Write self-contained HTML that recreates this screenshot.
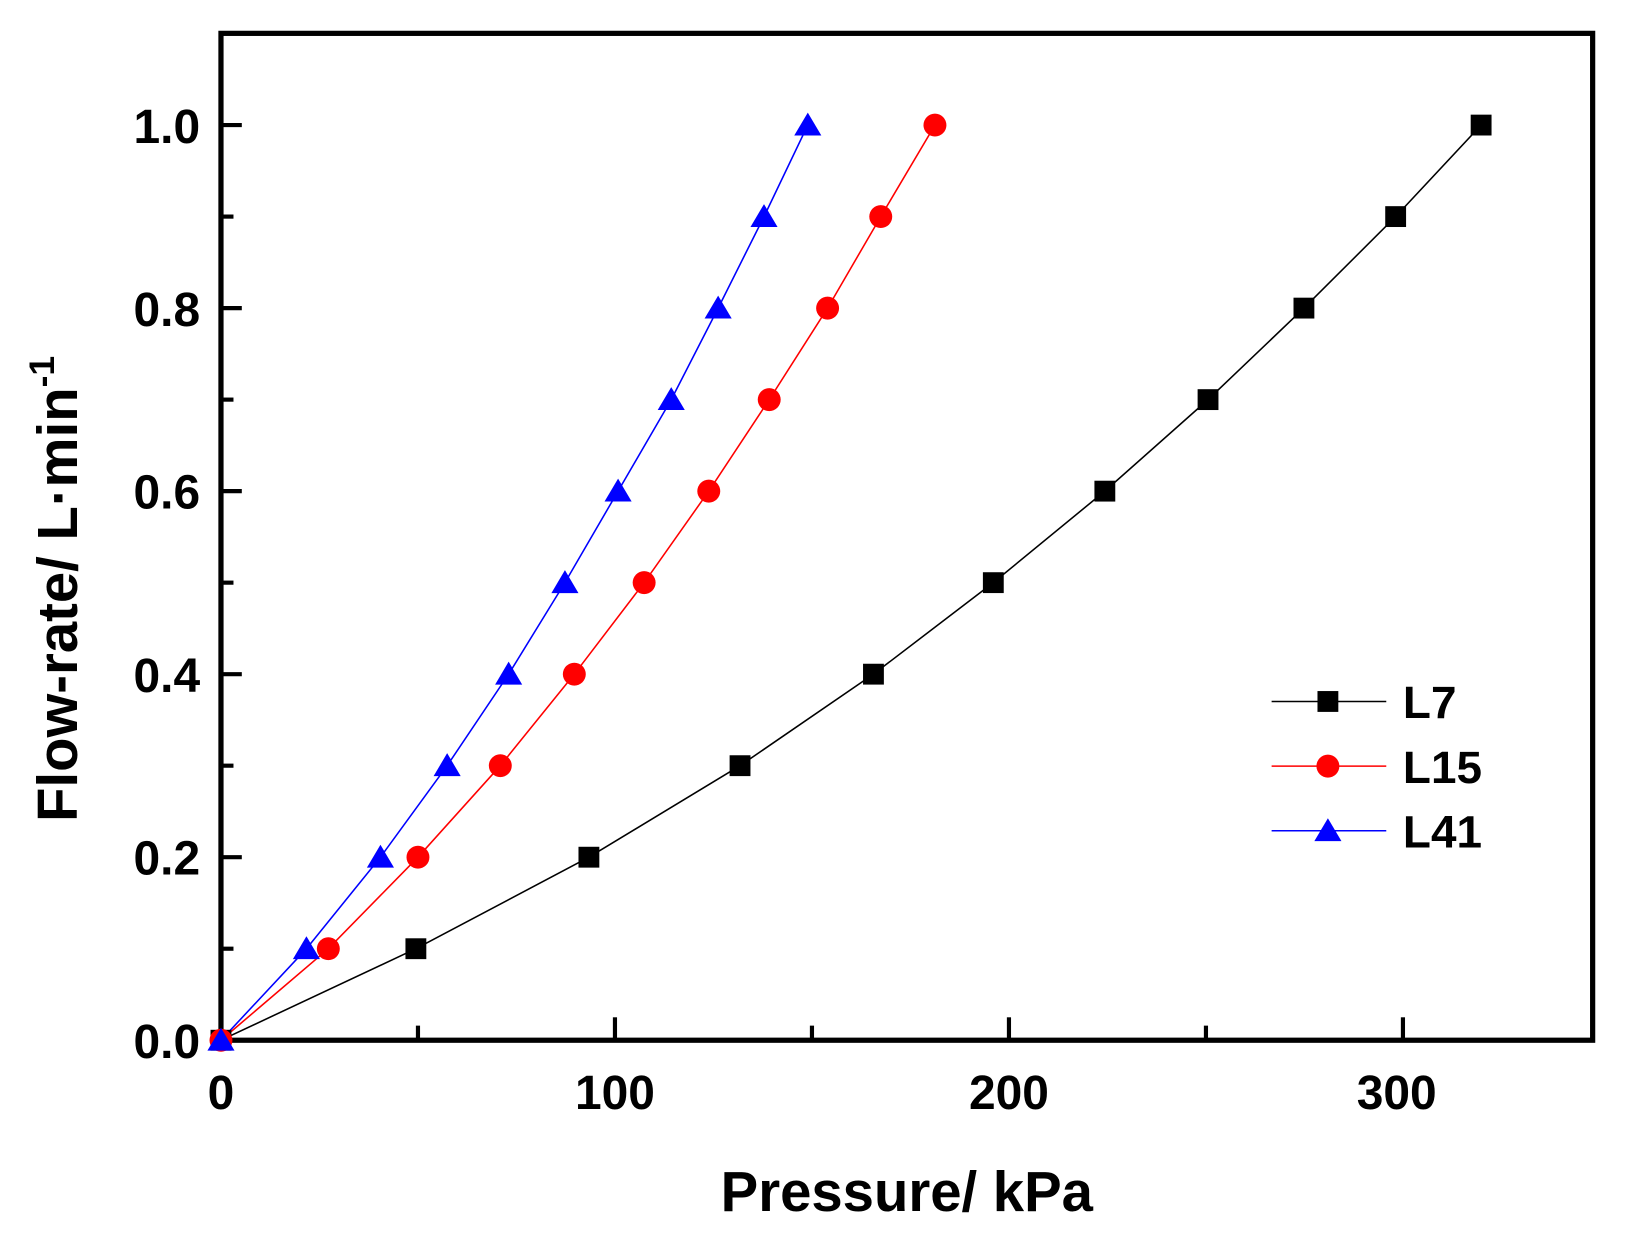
<!DOCTYPE html>
<html><head><style>html,body{margin:0;padding:0;background:#fff}svg{display:block}</style></head>
<body>
<svg width="1626" height="1244" viewBox="0 0 1560 1193.5" preserveAspectRatio="none" xmlns="http://www.w3.org/2000/svg" font-family="Liberation Sans, Arial, sans-serif" font-weight="bold">
<rect x="0" y="0" width="1560" height="1193.5" fill="#fff"/>
<!-- ticks -->
<g stroke="#000" stroke-width="4">
<line x1="401" y1="998" x2="401" y2="984"/><line x1="590" y1="998" x2="590" y2="976"/>
<line x1="779" y1="998" x2="779" y2="984"/><line x1="968" y1="998" x2="968" y2="976"/>
<line x1="1157" y1="998" x2="1157" y2="984"/><line x1="1346" y1="998" x2="1346" y2="976"/>
<line x1="212" y1="910.2" x2="224" y2="910.2"/><line x1="212" y1="822.4" x2="232" y2="822.4"/>
<line x1="212" y1="734.6" x2="224" y2="734.6"/><line x1="212" y1="646.8" x2="232" y2="646.8"/>
<line x1="212" y1="559" x2="224" y2="559"/><line x1="212" y1="471.2" x2="232" y2="471.2"/>
<line x1="212" y1="383.4" x2="224" y2="383.4"/><line x1="212" y1="295.6" x2="232" y2="295.6"/>
<line x1="212" y1="207.8" x2="224" y2="207.8"/><line x1="212" y1="120" x2="232" y2="120"/>
</g>
<rect x="212" y="32" width="1316" height="966" fill="none" stroke="#000" stroke-width="5"/>
<g font-size="46" text-anchor="end">
<text x="192" y="1015">0.0</text><text x="192" y="839">0.2</text><text x="192" y="664">0.4</text>
<text x="192" y="488">0.6</text><text x="192" y="313">0.8</text><text x="192" y="137">1.0</text>
</g>
<g font-size="46" text-anchor="middle">
<text x="212" y="1064">0</text><text x="590" y="1064">100</text><text x="968" y="1064">200</text><text x="1340" y="1064">300</text>
</g>
<text x="870" y="1162" font-size="54" text-anchor="middle">Pressure/ kPa</text>
<text transform="translate(74,565) rotate(-90)" font-size="54" text-anchor="middle">Flow-rate/ L·min<tspan dy="-22" font-size="34">-1</tspan></text>
<!-- series -->
<polyline fill="none" stroke="#000" stroke-width="1.5" points="212,998 399,910.2 565,822.4 710,734.6 838,646.8 953,559 1060,471.2 1159,383.4 1251,295.6 1339,207.8 1421,120"/>
<polyline fill="none" stroke="#f00" stroke-width="1.5" points="212,998 315,910.2 401,822.4 480,734.6 551,646.8 618,559 680,471.2 738,383.4 794,295.6 845,207.8 897,120"/>
<polyline fill="none" stroke="#00f" stroke-width="1.5" points="212,998 294,910.2 365,822.4 429,734.6 488,646.8 542,559 593,471.2 644,383.4 689,295.6 733,207.8 775,120"/>
<g fill="#000">
<rect x="202" y="988" width="20" height="20"/>
<rect x="389" y="900.2" width="20" height="20"/><rect x="555" y="812.4" width="20" height="20"/>
<rect x="700" y="724.6" width="20" height="20"/><rect x="828" y="636.8" width="20" height="20"/>
<rect x="943" y="549" width="20" height="20"/><rect x="1050" y="461.2" width="20" height="20"/>
<rect x="1149" y="373.4" width="20" height="20"/><rect x="1241" y="285.6" width="20" height="20"/>
<rect x="1329" y="197.8" width="20" height="20"/><rect x="1411" y="110" width="20" height="20"/>
</g>
<g fill="#f00">
<circle cx="212" cy="998" r="11"/>
<circle cx="315" cy="910.2" r="11"/><circle cx="401" cy="822.4" r="11"/><circle cx="480" cy="734.6" r="11"/>
<circle cx="551" cy="646.8" r="11"/><circle cx="618" cy="559" r="11"/><circle cx="680" cy="471.2" r="11"/>
<circle cx="738" cy="383.4" r="11"/><circle cx="794" cy="295.6" r="11"/><circle cx="845" cy="207.8" r="11"/>
<circle cx="897" cy="120" r="11"/>
</g>
<g fill="#00f">
<path d="M212,986 l13,22 h-26z"/>
<path d="M294,898.2 l13,22 h-26z"/><path d="M365,810.4 l13,22 h-26z"/><path d="M429,722.6 l13,22 h-26z"/>
<path d="M488,634.8 l13,22 h-26z"/><path d="M542,547 l13,22 h-26z"/><path d="M593,459.2 l13,22 h-26z"/>
<path d="M644,371.4 l13,22 h-26z"/><path d="M689,283.6 l13,22 h-26z"/><path d="M733,195.8 l13,22 h-26z"/>
<path d="M775,108 l13,22 h-26z"/>
</g>
<!-- legend -->
<line x1="1220" y1="673" x2="1330" y2="673" stroke="#000" stroke-width="1.5"/>
<rect x="1264" y="663" width="20" height="20" fill="#000"/>
<line x1="1220" y1="735" x2="1330" y2="735" stroke="#f00" stroke-width="1.5"/>
<circle cx="1274" cy="735" r="11" fill="#f00"/>
<line x1="1220" y1="797" x2="1330" y2="797" stroke="#00f" stroke-width="1.5"/>
<path d="M1274,785 l13,22 h-26z" fill="#00f"/>
<g font-size="44">
<text x="1346" y="689">L7</text><text x="1346" y="751">L15</text><text x="1346" y="813">L41</text>
</g>
</svg>
</body></html>
